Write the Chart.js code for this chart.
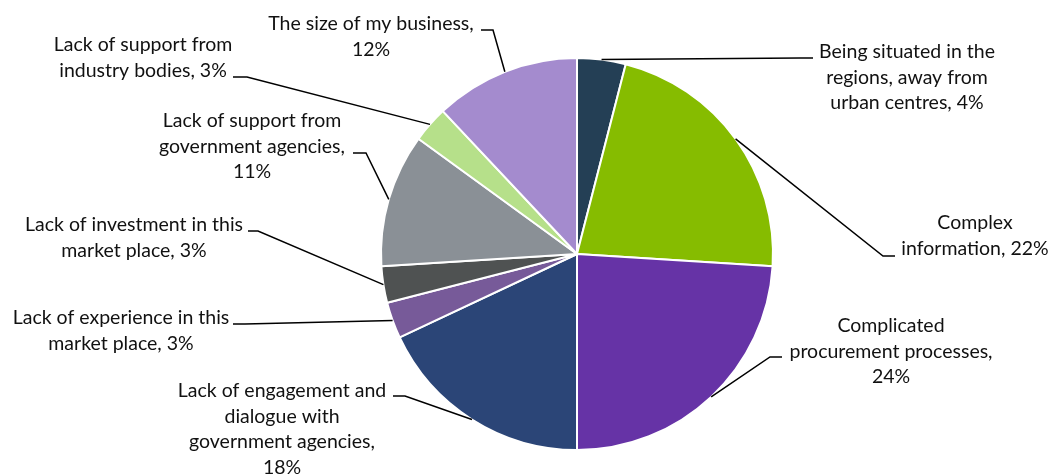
<!DOCTYPE html>
<html>
<head>
<meta charset="utf-8">
<title>Barriers pie</title>
<script src="https://cdn.jsdelivr.net/npm/chart.js@4/dist/chart.umd.min.js"></script>
<style>
  html, body { margin: 0; padding: 0; background: #fff; }
  canvas { display: block; }
</style>
</head>
<body>
<canvas id="pieChart" width="1051" height="476"></canvas>
<script>
// Slices, clockwise from 12 o'clock
const categories = [
    'Being situated in the regions, away from urban centres',
    'Complex information',
    'Complicated procurement processes',
    'Lack of engagement and dialogue with government agencies',
    'Lack of experience in this market place',
    'Lack of investment in this market place',
    'Lack of support from government agencies',
    'Lack of support from industry bodies',
    'The size of my business'
];
const shares = [4, 22, 24, 18, 3, 3, 11, 3, 12];
const sliceColors = ['#243F55', '#86BC00', '#6633A6', '#2B4577', '#775A99', '#4F5252', '#8A9096', '#B6E08A', '#A48BCE'];

// Label placement: words per line, text centre x, first line y, leader elbow and end
const labelLayout = [
    { wrap: [4, 3, 3], cx: 907, y: 52,  elbow: [800, 58],  end: [813, 58] },
    { wrap: [1, 2],    cx: 975, y: 223, elbow: [883, 256], end: [895, 256] },
    { wrap: [1, 2, 1], cx: 891, y: 326, elbow: [770, 357], end: [782, 357] },
    { wrap: [4, 2, 2, 1], cx: 282, y: 391, elbow: [405, 396], end: [393, 396] },
    { wrap: [5, 3],    cx: 121, y: 318, elbow: [245, 324], end: [233, 324] },
    { wrap: [5, 3],    cx: 134, y: 225, elbow: [258, 231], end: [248, 231] },
    { wrap: [4, 2, 1], cx: 252, y: 121, elbow: [366, 153], end: [353, 153] },
    { wrap: [4, 3],    cx: 143, y: 45,  elbow: [247, 77],  end: [233, 77] },
    { wrap: [5, 1],    cx: 371, y: 24,  elbow: [493, 30],  end: [481, 30] }
];
const LINE_HEIGHT = 25.5;
const LABEL_FONT = '19.5px Lato, "Open Sans", sans-serif';

function wrapLabel(text, wrap) {
    const words = text.split(' ');
    const lines = [];
    let i = 0;
    wrap.forEach(n => {
        lines.push(words.slice(i, i + n).join(' '));
        i += n;
    });
    return lines;
}

// Draws leader lines from each slice's outer edge plus the wrapped labels
const leaderLabels = {
    id: 'leaderLabels',
    afterDraw(chart) {
        const ctx = chart.ctx;
        const arcs = chart.getDatasetMeta(0).data;
        ctx.save();
        ctx.strokeStyle = '#000';
        ctx.lineWidth = 1.5;
        ctx.fillStyle = '#111';
        ctx.font = LABEL_FONT;
        ctx.textAlign = 'center';
        ctx.textBaseline = 'middle';

        arcs.forEach((arc, i) => {
            const lay = labelLayout[i];
            const p = arc.getProps(['x', 'y', 'startAngle', 'endAngle', 'outerRadius'], true);
            const mid = (p.startAngle + p.endAngle) / 2;
            const ax = p.x + Math.cos(mid) * p.outerRadius;
            const ay = p.y + Math.sin(mid) * p.outerRadius;

            ctx.beginPath();
            ctx.moveTo(ax, ay);
            ctx.lineTo(lay.elbow[0], lay.elbow[1]);
            ctx.lineTo(lay.end[0], lay.end[1]);
            ctx.stroke();

            const text = categories[i] + ', ' + shares[i] + '%';
            wrapLabel(text, lay.wrap).forEach((line, k) => {
                ctx.fillText(line, lay.cx, lay.y + k * LINE_HEIGHT);
            });
        });
        ctx.restore();
    }
};

new Chart(document.getElementById('pieChart'), {
    type: 'pie',
    data: {
        labels: categories,
        datasets: [{
            data: shares,
            backgroundColor: sliceColors,
            borderColor: '#fff',
            borderWidth: 2
        }]
    },
    options: {
        responsive: false,
        animation: false,
        layout: { padding: { top: 57, bottom: 25, left: 380, right: 277 } },
        plugins: {
            legend: { display: false },
            tooltip: { enabled: false }
        }
    },
    plugins: [leaderLabels]
});
</script>
</body>
</html>
